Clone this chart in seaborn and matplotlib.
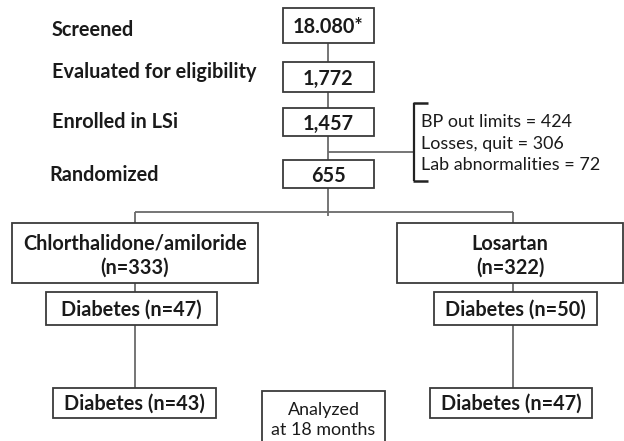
import matplotlib
matplotlib.use("Agg")
import matplotlib.pyplot as plt
from matplotlib.patches import Rectangle
import seaborn as sns

# Flow chart data
stage_labels = ["Screened", "Evaluated for eligibility", "Enrolled in LSi", "Randomized"]
stage_counts = ["18.080*", "1,772", "1,457", "655"]
excl_labels = ["BP out limits", "Losses, quit", "Lab abnormalities"]
excl_counts = [424, 306, 72]
arm_names = ["Chlorthalidone/amiloride", "Losartan"]
arm_n = [333, 322]
diab_start = [47, 50]
diab_end = [43, 47]
analyzed_note = "Analyzed\nat 18 months"

sns.set_theme(style="white")
plt.rcParams['font.family'] = ['Lato', 'DejaVu Sans']

BOX_EC = "#3a3a3a"
LINE_C = "#6a6a6a"
TXT = "#1a1a1a"
FS_B = 14.3   # bold labels
FS_N = 12.9   # normal labels

fig = plt.figure(figsize=(6.24, 4.41), dpi=100)
ax = fig.add_axes([0, 0, 1, 1])
ax.set_xlim(0, 624)
ax.set_ylim(441, 0)
ax.axis("off")


def box(x0, y0, x1, y1):
    ax.add_patch(Rectangle((x0, y0), x1 - x0, y1 - y0, fill=True, fc="white",
                           ec=BOX_EC, lw=1.3, zorder=3))


def line(xs, ys, **kw):
    ax.plot(xs, ys, color=kw.get("color", LINE_C), lw=kw.get("lw", 1.3),
            zorder=2, solid_capstyle="butt")


# layout of the top column (pixel rows)
stage_box_y = [(8, 43), (62, 92), (108, 136), (160, 188)]
stage_lbl_y = [30, 72, 122, 175]
stage_lbl_x = [52, 52, 52, 49]
col_x = 328

line([col_x, col_x], [43, 216])
for (y0, y1), cnt, lbl, ly, lx in zip(stage_box_y, stage_counts, stage_labels,
                                      stage_lbl_y, stage_lbl_x):
    box(283, y0, 374, y1)
    ax.text(col_x, (y0 + y1) / 2 + 1.5, cnt, ha="center", va="center",
            fontsize=FS_B, fontweight="bold", color=TXT, zorder=4)
    ax.text(lx, ly, lbl, ha="left", va="center", fontsize=FS_B,
            fontweight="bold", color=TXT)

# exclusions bracket
line([col_x, 414], [152, 152])
line([414, 414], [103, 181], color="#222222", lw=1.6)
line([413, 428], [103, 103], color="#222222", lw=1.8)
line([413, 428], [181, 181], color="#222222", lw=1.8)
for i, (l, c) in enumerate(zip(excl_labels, excl_counts)):
    ax.text(421, 122 + i * 21.5, f"{l} = {c}", ha="left", va="center",
            fontsize=FS_N, color=TXT)

# randomisation split
arm_x = [135, 513]
arm_box = [(12, 258), (397, 623)]
d1_box = [(46, 217), (434, 597)]
d2_box = [(53, 216), (430, 592)]
line([arm_x[0], arm_x[1]], [212, 212])
for k in range(2):
    x = arm_x[k]
    line([x, x], [212, 390])
    bx0, bx1 = arm_box[k]
    box(bx0, 223, bx1, 283)
    cx = (bx0 + bx1) / 2
    ax.text(cx, 244, arm_names[k], ha="center", va="center", fontsize=FS_B,
            fontweight="bold", color=TXT, zorder=4)
    ax.text(cx, 268, f"(n={arm_n[k]})", ha="center", va="center",
            fontsize=FS_B, fontweight="bold", color=TXT, zorder=4)
    bx0, bx1 = d1_box[k]
    box(bx0, 292, bx1, 325)
    ax.text((bx0 + bx1) / 2, 310, f"Diabetes (n={diab_start[k]})", ha="center",
            va="center", fontsize=FS_B, fontweight="bold", color=TXT, zorder=4)
    bx0, bx1 = d2_box[k]
    box(bx0, 388, bx1, 418)
    ax.text((bx0 + bx1) / 2, 404, f"Diabetes (n={diab_end[k]})", ha="center",
            va="center", fontsize=FS_B, fontweight="bold", color=TXT, zorder=4)

# analyzed note
box(262, 391, 385, 445)
ax.text(323.5, 420, analyzed_note, ha="center", va="center", fontsize=FS_N,
        color=TXT, linespacing=1.3, zorder=4)

fig.savefig("out.png", dpi=100, facecolor="white")
